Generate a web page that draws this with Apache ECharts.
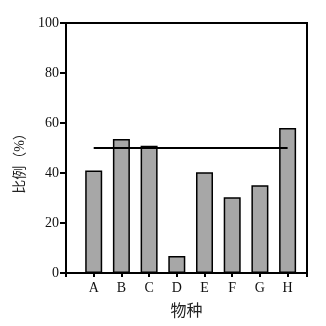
<!DOCTYPE html>
<html><head><meta charset="utf-8">
<script src="https://cdn.jsdelivr.net/npm/echarts@6/dist/echarts.min.js"></script>
<style>html,body{margin:0;padding:0;background:#fff}#c{width:326px;height:326px}</style>
</head><body><div id="c"></div>
<script>
const categories = ['A','B','C','D','E','F','G','H'];
const values = [41, 53.6, 50.9, 6.8, 40.3, 30.3, 35.1, 58];
const refLevel = 50;
const yTicks = [0, 20, 40, 60, 80, 100];

const FF = '"Liberation Serif","Noto Sans CJK SC",serif';
const chart = echarts.init(document.getElementById('c'));
chart.setOption({
  backgroundColor: '#fff',
  animation: false,
  grid: {left: 66, right: 19, top: 23, bottom: 53, show: true, borderColor: '#000', borderWidth: 2, backgroundColor: 'transparent'},
  xAxis: {
    type: 'value', min: 0, max: 8.7, interval: 1,
    name: '物种', nameLocation: 'middle', nameGap: 31,
    nameTextStyle: {fontFamily: FF, fontSize: 16, color: '#222'},
    axisLine: {show: true, onZero: false, lineStyle: {color: '#000', width: 2}},
    axisTick: {show: true, length: 4, lineStyle: {color: '#000', width: 2}},
    axisLabel: {fontFamily: FF, fontSize: 14, color: '#111', margin: 8,
      formatter: v => (Number.isInteger(v) && v >= 1 && v <= categories.length) ? categories[v - 1] : ''},
    splitLine: {show: false}
  },
  yAxis: {
    type: 'value', min: 0, max: 100, interval: 20,
    name: '比例（%）', nameLocation: 'middle', nameGap: 36,
    nameTextStyle: {fontFamily: FF, fontSize: 14, color: '#222', padding: [0, 24, 0, 0]},
    axisLine: {show: true, lineStyle: {color: '#000', width: 2}},
    axisTick: {show: true, length: 6, lineStyle: {color: '#000', width: 2}},
    axisLabel: {fontFamily: FF, fontSize: 14, color: '#111', margin: 7,
      formatter: v => yTicks.includes(v) ? String(v) : ''},
    splitLine: {show: false}
  },
  series: [
    {
      type: 'bar', barWidth: 17,
      data: values.map((v, i) => [i + 1, v]),
      itemStyle: {color: '#a7a7a7', borderColor: '#000', borderWidth: 1.5}
    },
    {
      type: 'line', symbol: 'none',
      data: [[1, refLevel], [8, refLevel]],
      lineStyle: {color: '#000', width: 2}
    }
  ]
});
</script></body></html>
